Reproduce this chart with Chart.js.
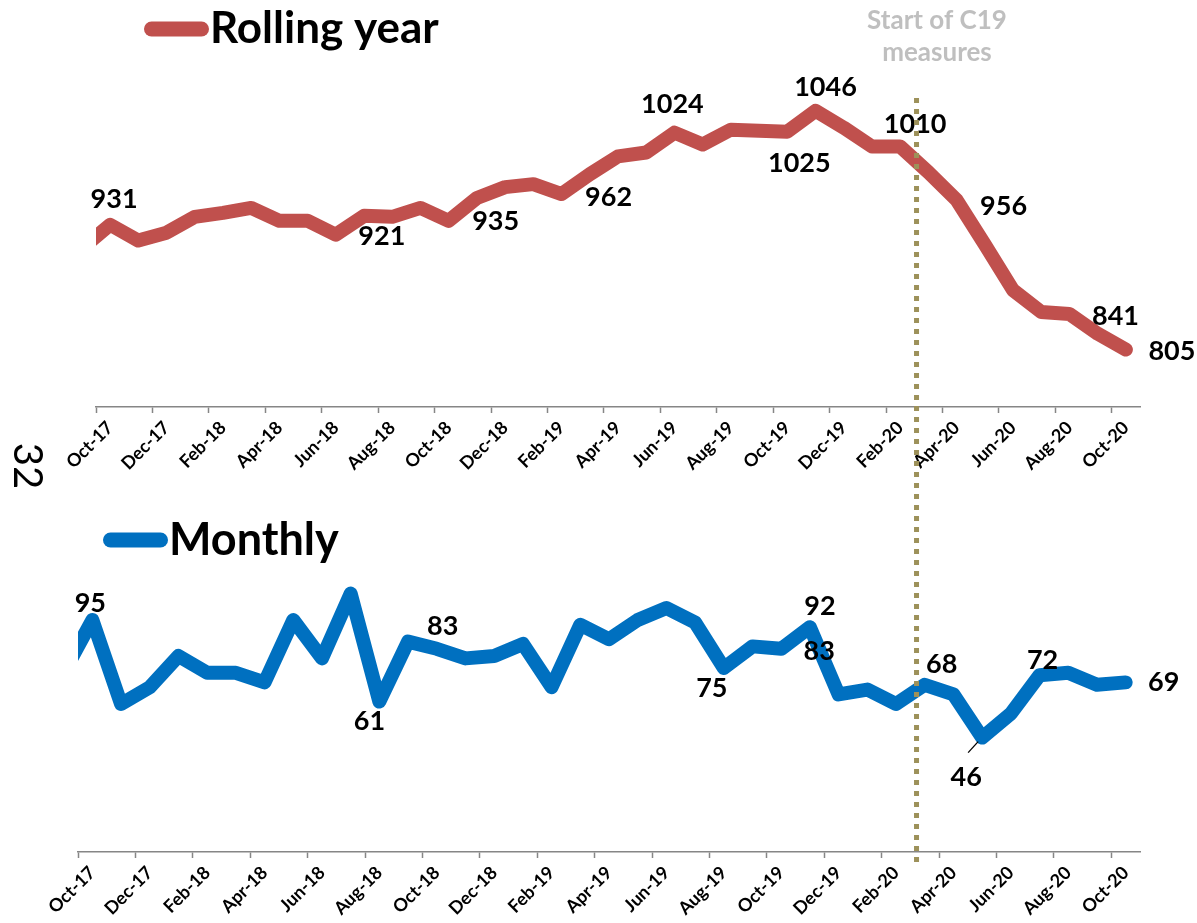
<!DOCTYPE html>
<html>
<head>
<meta charset="utf-8">
<title>Rolling year and monthly</title>
<script src="https://cdn.jsdelivr.net/npm/chart.js@4.4.1/dist/chart.umd.min.js"></script>
<style>
  html, body { margin: 0; padding: 0; background: #fff; }
  #page { position: relative; width: 1197px; height: 923px; overflow: hidden; }
  .panel { position: absolute; left: 0; width: 1197px; }
  #topPanel { top: 0; height: 500px; }
  #bottomPanel { top: 500px; height: 423px; }
</style>
</head>
<body>
<div id="page">
  <div class="panel" id="topPanel"><canvas id="rollingChart"></canvas></div>
  <div class="panel" id="bottomPanel"><canvas id="monthlyChart"></canvas></div>
</div>
<script>
// Sep-17 is kept so the lines run in from the left edge; the axes start at Oct-17
var months = [
  "Sep-17", "Oct-17", "Nov-17", "Dec-17",
  "Jan-18", "Feb-18", "Mar-18", "Apr-18", "May-18", "Jun-18", "Jul-18", "Aug-18", "Sep-18", "Oct-18", "Nov-18", "Dec-18",
  "Jan-19", "Feb-19", "Mar-19", "Apr-19", "May-19", "Jun-19", "Jul-19", "Aug-19", "Sep-19", "Oct-19", "Nov-19", "Dec-19",
  "Jan-20", "Feb-20", "Mar-20", "Apr-20", "May-20", "Jun-20", "Jul-20", "Aug-20", "Sep-20", "Oct-20"
];
var firstMonth = "Oct-17";

var rollingYear = [
  907, 931, 915, 923,
  939, 943, 948, 935, 935, 921, 940, 939, 948, 935, 958, 969,
  972, 962, 982, 1000, 1004, 1024, 1012, 1027, 1026, 1025, 1046, 1029,
  1010, 1010, 984, 956, 911, 865, 843, 841, 821, 805
];
var monthly = [
  73, 95, 60, 67,
  80, 73, 73, 69, 95, 79, 106, 61, 86, 83, 79, 80,
  85, 67, 93, 87, 95, 100, 94, 75, 84, 83, 92, 64,
  66, 60, 68, 64, 46, 56, 72, 73, 68, 69
];

// which points carry a value label
var rollingLabelled = ["Oct-17", "Jun-18", "Oct-18", "Feb-19", "Jun-19", "Oct-19", "Nov-19", "Feb-20", "Apr-20", "Aug-20", "Oct-20"];
var monthlyLabelled = ["Oct-17", "Aug-18", "Oct-18", "Aug-19", "Nov-19", "Oct-19", "Mar-20", "May-20", "Jul-20", "Oct-20"];

// position of the "Start of C19 measures" marker, in months (between Feb-20 and Mar-20)
var measuresStart = 29.58;

var red = "#C0504D";
var blue = "#0070C0";
var axisGrey = "#868686";
var olive = "#9d915a";

// label offsets from their point, in px (same order as the lists above)
var rollingOffsets = [[4, -25], [46, 2], [47, 1], [47, 3], [-2, -28], [12, 32], [10, -24], [15, -22], [47, 6], [46, 2], [46, 2]];
var monthlyOffsets = [[-2, -17], [-10, 20], [6, -23], [-12, 20], [10, -21], [38, 2], [17, -20], [-16, 40], [3, -15], [38, 0]];

var seriesKey = {
  id: "seriesKey",
  afterDraw: function (chart, args, opts) {
    var ds = chart.data.datasets[0];
    var ctx = chart.ctx;
    ctx.save();
    ctx.strokeStyle = ds.borderColor;
    ctx.lineWidth = opts.thickness;
    ctx.lineCap = "round";
    ctx.beginPath();
    ctx.moveTo(opts.x + opts.thickness / 2, opts.y);
    ctx.lineTo(opts.x + opts.length - opts.thickness / 2, opts.y);
    ctx.stroke();
    ctx.fillStyle = "#000";
    ctx.font = "bold " + opts.size + "px Lato";
    ctx.textBaseline = "alphabetic";
    ctx.fillText(ds.label, opts.x + opts.length + 1, opts.baseline);
    ctx.restore();
  }
};

var callouts = {
  id: "callouts",
  afterDatasetsDraw: function (chart, args, opts) {
    var meta = chart.getDatasetMeta(0);
    var values = chart.data.datasets[0].data;
    var ctx = chart.ctx;
    ctx.save();
    ctx.font = "bold 27px Lato";
    ctx.fillStyle = "#000";
    ctx.textAlign = "center";
    ctx.textBaseline = "middle";
    opts.names.forEach(function (name, k) {
      var i = months.indexOf(name);
      var p = meta.data[i];
      var off = opts.offsets[k];
      ctx.fillText(String(values[i]), p.x + off[0], p.y + off[1]);
      if (opts.leader === name) {
        ctx.strokeStyle = "#000";
        ctx.lineWidth = 1.3;
        ctx.beginPath();
        ctx.moveTo(p.x - 14, p.y + 15);
        ctx.lineTo(p.x - 4, p.y + 4);
        ctx.stroke();
      }
    });
    ctx.restore();
  }
};

var rollingChart;
var measuresLine = {
  id: "measuresLine",
  afterDraw: function (chart, args, opts) {
    var src = opts.ownScale ? chart : rollingChart;
    var x = src.scales.x.getPixelForValue(measuresStart);
    var ctx = chart.ctx;
    ctx.save();
    ctx.strokeStyle = olive;
    ctx.lineWidth = 5;
    ctx.setLineDash([5, 6]);
    ctx.lineDashOffset = opts.dashOffset;
    ctx.beginPath();
    ctx.moveTo(x, opts.from);
    ctx.lineTo(x, opts.to);
    ctx.stroke();
    ctx.restore();
  }
};

var notes = {
  id: "notes",
  afterDraw: function (chart) {
    var ctx = chart.ctx;
    ctx.save();
    ctx.fillStyle = "#bfbfbf";
    ctx.font = "bold 26px Lato";
    ctx.textAlign = "center";
    ctx.textBaseline = "middle";
    ctx.fillText("Start of C19", 937, 21);
    ctx.fillText("measures", 937, 53);
    ctx.translate(27, 466);
    ctx.rotate(Math.PI / 2);
    ctx.fillStyle = "#000";
    ctx.font = "40px Lato";
    ctx.fillText("32", 0, 0);
    ctx.restore();
  }
};

function xAxis(height) {
  return {
    type: "category",
    min: firstMonth,
    offset: true,
    grid: {
      offset: true,
      drawOnChartArea: false,
      drawTicks: true,
      tickLength: 6,
      tickWidth: 1.5,
      tickColor: function (ctx) { return ctx.index % 2 === 0 ? axisGrey : "rgba(0,0,0,0)"; }
    },
    border: { display: true, color: axisGrey, width: 1.5 },
    ticks: {
      autoSkip: false,
      minRotation: 45,
      maxRotation: 45,
      padding: 4,
      color: "#000",
      font: { family: "Lato", weight: "bold", size: 18 },
      callback: function (value, index) { return index % 2 === 0 ? this.getLabelForValue(value) : ""; }
    },
    afterFit: function (scale) { scale.height = height; }
  };
}

function lineSet(label, values, colour) {
  return {
    label: label,
    data: values,
    borderColor: colour,
    backgroundColor: colour,
    borderWidth: 14,
    borderCapStyle: "round",
    borderJoinStyle: "round",
    pointRadius: 0,
    tension: 0,
    clip: { left: 0, top: false, right: false, bottom: false }
  };
}

rollingChart = new Chart(document.getElementById("rollingChart"), {
  type: "line",
  data: { labels: months, datasets: [lineSet("Rolling year", rollingYear, red)] },
  options: {
    responsive: true,
    maintainAspectRatio: false,
    animation: false,
    layout: { padding: { left: 96, right: 57, top: 96, bottom: 0 } },
    scales: {
      x: xAxis(93),
      y: { display: false, min: 747, max: 1061 }
    },
    plugins: {
      legend: { display: false },
      tooltip: { enabled: false },
      seriesKey: { x: 144, y: 29, length: 65, thickness: 15, size: 44, baseline: 43 },
      callouts: { names: rollingLabelled, offsets: rollingOffsets },
      measuresLine: { ownScale: true, from: 98, to: 500, dashOffset: 0 }
    }
  },
  plugins: [seriesKey, callouts, measuresLine, notes]
});

new Chart(document.getElementById("monthlyChart"), {
  type: "line",
  data: { labels: months, datasets: [lineSet("Monthly", monthly, blue)] },
  options: {
    responsive: true,
    maintainAspectRatio: false,
    animation: false,
    layout: { padding: { left: 78, right: 57, top: 60, bottom: 0 } },
    scales: {
      x: xAxis(71),
      y: { display: false, min: -1.67, max: 120 }
    },
    plugins: {
      legend: { display: false },
      tooltip: { enabled: false },
      seriesKey: { x: 103, y: 40, length: 65, thickness: 15, size: 45, baseline: 55 },
      callouts: { names: monthlyLabelled, offsets: monthlyOffsets, leader: "May-20" },
      measuresLine: { ownScale: false, from: 0, to: 368, dashOffset: (500 - 98) % 11 }
    }
  },
  plugins: [seriesKey, callouts, measuresLine]
});
</script>
</body>
</html>
